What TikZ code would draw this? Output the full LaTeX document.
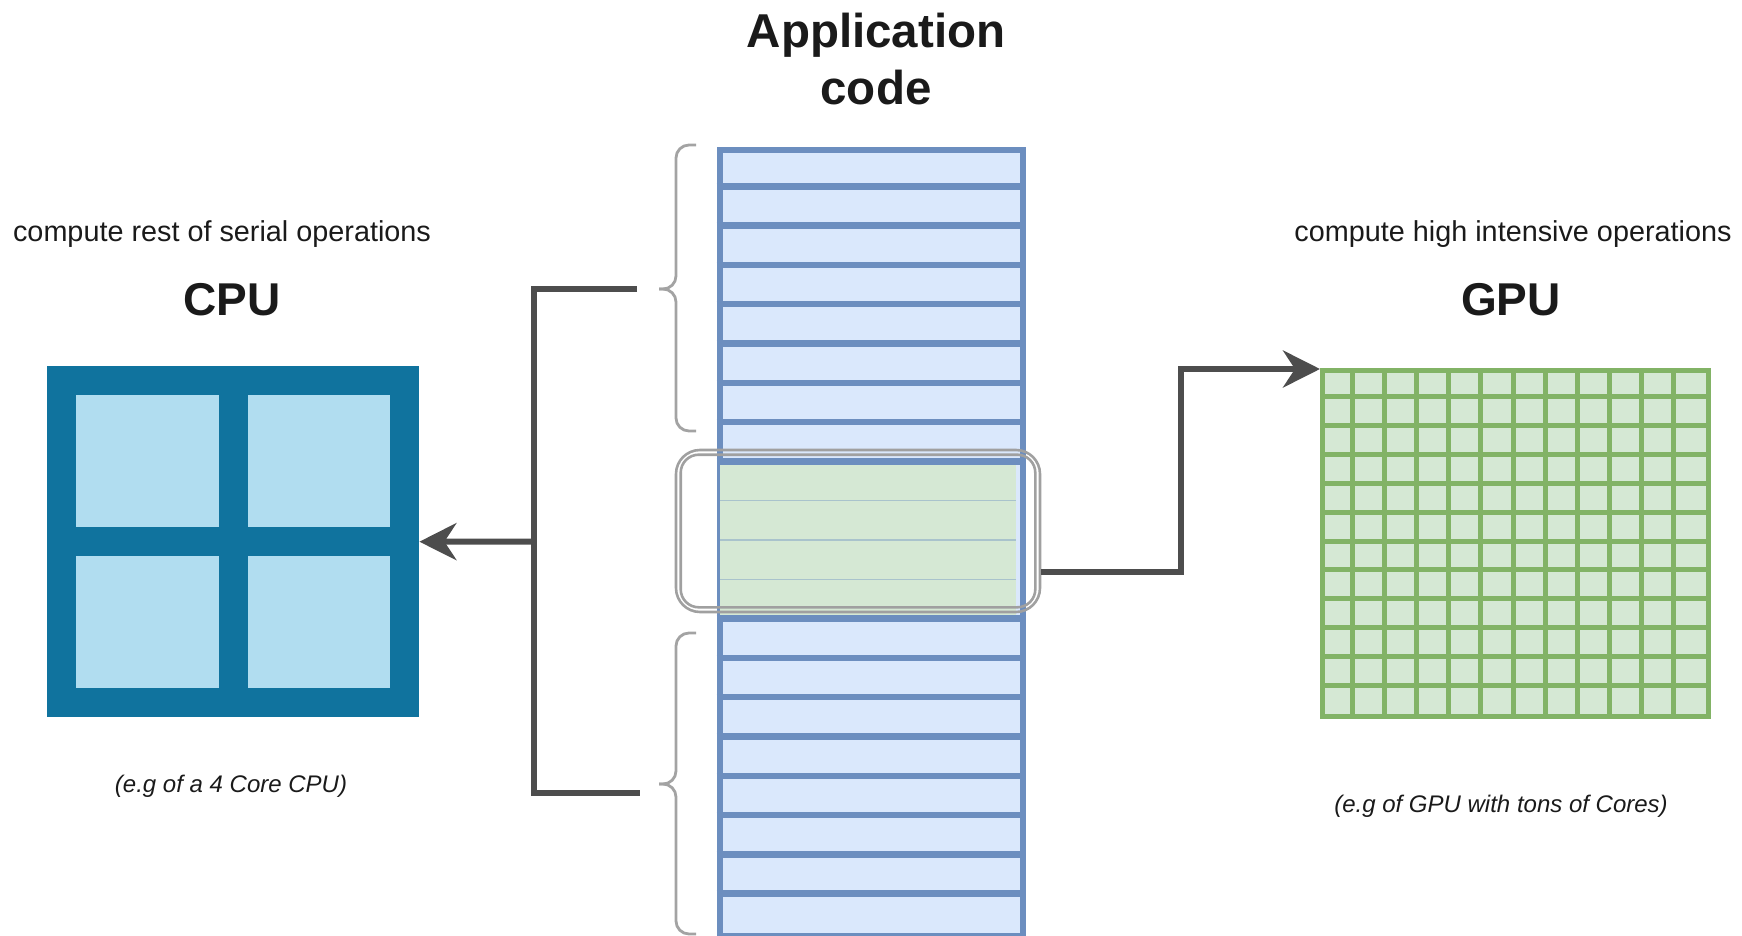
\documentclass[tikz,border=0pt]{standalone}
\usepackage{fontspec}
\setmainfont{Liberation Sans}
\usetikzlibrary{arrows.meta,calc}
\definecolor{colblue}{HTML}{6C8EBF}
\definecolor{colfill}{HTML}{DAE8FC}
\definecolor{grnfill}{HTML}{D5E8D4}
\definecolor{grnline}{HTML}{82B366}
\definecolor{sepline}{HTML}{A9C3CC}
\definecolor{cpuframe}{HTML}{10739E}
\definecolor{cpucore}{HTML}{B1DDF0}
\definecolor{connc}{HTML}{4D4D4D}
\definecolor{braceg}{HTML}{A3A3A3}
\definecolor{hlg}{HTML}{A0A0A0}
\definecolor{txt}{HTML}{1A1A1A}
\begin{document}
\begin{tikzpicture}[x=1pt,y=-1pt,
  conn/.style={draw=connc, line width=6pt},
  arr/.style={conn, -{Stealth[length=37pt,width=37pt,inset=12pt]}},
  bracel/.style={draw=braceg, line width=2.8pt, rounded corners=13pt},
  hlline/.style={draw=hlg, line width=2.6pt},
  small/.style={text=txt, font=\fontsize{28.8}{34}\selectfont, inner sep=0pt, anchor=base},
  big/.style={text=txt, font=\bfseries\fontsize{46}{55}\selectfont, inner sep=0pt, anchor=base},
  note/.style={text=txt, font=\itshape\fontsize{24}{28}\selectfont, inner sep=0pt, anchor=base},
  apptitle/.style={text=txt, font=\bfseries\fontsize{47.5}{57}\selectfont, inner sep=0pt, align=center},
  rowline/.style={draw=colblue, line width=6.5pt},
  gridline/.style={draw=grnline, line width=5pt}
]
\useasboundingbox (0,0) rectangle (1742,936);

% ---------- title ----------
\node[apptitle] (app) at (876,59.5) {Application\\code};

% ---------- application code column ----------
\node[draw=colblue, fill=colfill, line width=6.5pt, minimum width=303pt, minimum height=786pt,
      inner sep=0pt, anchor=north west] (col) at (716.5,147) {};
\fill[grnfill] (719.75,461.4) rectangle (1016.25,618.6);
\foreach \k in {9,10,11}
  \draw[sepline, line width=1.3pt] (719.75,{147+39.3*\k}) -- (1016.25,{147+39.3*\k});
\foreach \k in {1,...,8,12,13,...,19}
  \draw[rowline] (716.5,{147+39.3*\k}) -- (1019.5,{147+39.3*\k});

% ---------- highlight box ----------
\node[hlline, rounded corners=24pt, minimum width=364pt, minimum height=162pt, inner sep=0pt] (hl) at (858,531) {};
\draw[hlline, rounded corners=18pt] ($(hl.north west)+(6,6)$) rectangle ($(hl.south east)+(-6,-6)$);

% ---------- braces ----------
\draw[bracel] (696,145) -- (676,145) -- (676,289) -- (659,289);
\draw[bracel] (696,431) -- (676,431) -- (676,289) -- (659,289);
\draw[bracel] (696,633) -- (676,633) -- (676,784) -- (659,784);
\draw[bracel] (696,934) -- (676,934) -- (676,784) -- (659,784);
\coordinate (tbtip) at (659,289);
\coordinate (bbtip) at (659,784);

% ---------- CPU ----------
\node[fill=cpuframe, minimum width=372pt, minimum height=351pt, inner sep=0pt, anchor=north west] (cpu) at (47,366) {};
\fill[cpucore] ($(cpu.north west)+(29,29)$) rectangle +(142.5,132);
\fill[cpucore] ($(cpu.north west)+(200.5,29)$) rectangle +(142.5,132);
\fill[cpucore] ($(cpu.north west)+(29,190)$) rectangle +(142.5,132);
\fill[cpucore] ($(cpu.north west)+(200.5,190)$) rectangle +(142.5,132);

\node[small] (cputxt) at (222,241) {compute rest of serial operations};
\node[big] (cpulbl) at (232,315) {CPU};
\node[note] (cpunote) at (231,792) {(e.g of a 4 Core CPU)};

% ---------- GPU ----------
\node[fill=grnfill, draw=grnline, line width=5pt, minimum width=386pt, minimum height=346pt,
      inner sep=0pt, anchor=north west] (gpu) at (1320,368) {};
\foreach \i in {1,...,11} {
  \draw[gridline] ({1320+386/12*\i},368) -- ({1320+386/12*\i},714);
  \draw[gridline] (1320,{368+346/12*\i}) -- (1706,{368+346/12*\i});
}
\node[small] (gputxt) at (1513,241) {compute high intensive operations};
\node[big] (gpulbl) at (1511,315) {GPU};
\node[note] (gpunote) at (1501,812) {(e.g of GPU with tons of Cores)};

% ---------- connectors ----------
\coordinate (lt) at ($(tbtip)+(-22,0)$);
\coordinate (lb) at ($(bbtip)+(-19,9)$);
\coordinate (lj) at (534,541.5);
\draw[conn] (lt) -| (lj) |- (lb);
\draw[arr] (lj) -- (cpu.east);

\coordinate (rs) at ($(hl.east)+(0,41)$);
\coordinate (rv) at (1181,369);
\draw[arr] (rs) -| (rv) -- ([yshift=-1pt]gpu.north west);
\end{tikzpicture}
\end{document}
